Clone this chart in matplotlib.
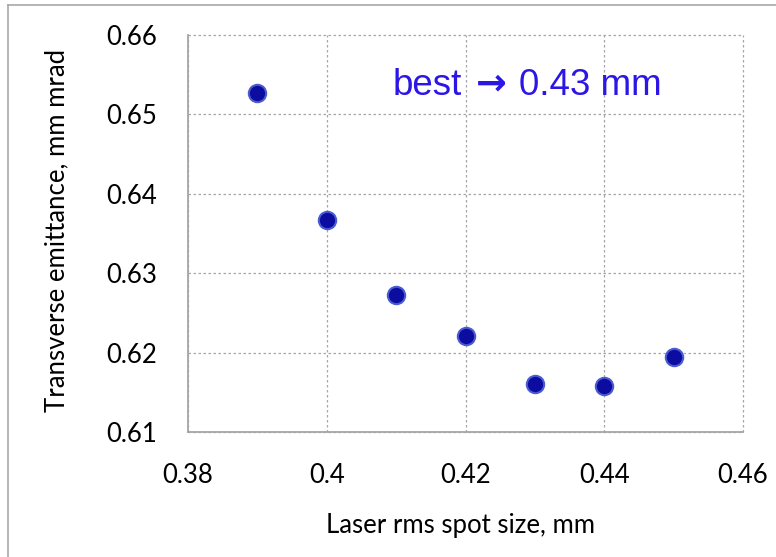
import matplotlib
matplotlib.use("Agg")
import matplotlib.pyplot as plt
from matplotlib.lines import Line2D

spot_size = [0.39, 0.40, 0.41, 0.42, 0.43, 0.44, 0.45]
emittance = [0.6527, 0.6367, 0.6273, 0.6221, 0.6160, 0.6158, 0.6195]

x_ticks = [0.38, 0.40, 0.42, 0.44, 0.46]
x_tick_labels = ["0.38", "0.4", "0.42", "0.44", "0.46"]
y_ticks = [0.61, 0.62, 0.63, 0.64, 0.65, 0.66]
y_tick_labels = ["0.61", "0.62", "0.63", "0.64", "0.65", "0.66"]

x_label = "Laser rms spot size, mm"
y_label = "Transverse emittance, mm mrad"
note_parts = ["best", "\u2192", "0.43 mm"]

tick_font = "Lato"
grey = "#a6a6a6"
note_color = "#2b16e6"

fig = plt.figure(figsize=(7.76, 5.57), dpi=100)
ax = fig.add_axes([0.2423, 0.2244, 0.7152, 0.7128])

ax.plot(spot_size, emittance, linestyle="none", marker="o",
        markersize=12.5, markerfacecolor="#0c0ca0",
        markeredgecolor="#4a5bd0", markeredgewidth=1.5, zorder=3)

ax.set_xlim(0.38, 0.46)
ax.set_ylim(0.61, 0.66)
ax.set_xticks(x_ticks)
ax.set_xticklabels(x_tick_labels)
ax.set_yticks(y_ticks)
ax.set_yticklabels(y_tick_labels)

ax.grid(True, color=grey, linestyle=(0, (2, 2)), linewidth=0.9)
for gl in ax.get_xgridlines() + ax.get_ygridlines():
    gl.set_clip_on(False)

for side in ["top", "right"]:
    ax.spines[side].set_visible(False)
for side in ["left", "bottom"]:
    ax.spines[side].set_color(grey)
    ax.spines[side].set_linewidth(1.3)

ax.tick_params(axis="both", length=0, labelsize=18.5, colors="black")
ax.tick_params(axis="x", pad=22)
ax.tick_params(axis="y", pad=22)
for lbl in ax.get_xticklabels() + ax.get_yticklabels():
    lbl.set_fontfamily(tick_font)

# note: "best", a heavier arrow, then the value
t1 = ax.text(0.369, 0.849, note_parts[0], transform=ax.transAxes, fontsize=26.5,
             family="Liberation Sans", color=note_color, ha="left", va="baseline")
t2 = ax.annotate(note_parts[1], xy=(1, 0), xycoords=t1, xytext=(10, 0),
                 textcoords="offset points", fontsize=26.5, family="DejaVu Sans",
                 fontweight="bold", color=note_color, ha="left", va="bottom")
ax.annotate(note_parts[2], xy=(1, 0), xycoords=t2, xytext=(9, 0),
            textcoords="offset points", fontsize=26.5, family="Liberation Sans",
            color=note_color, ha="left", va="bottom")

fig.text(461 / 776, 1 - 533 / 557, x_label, fontsize=18.5, family=tick_font,
         ha="center", va="baseline")
fig.text(57 / 776, 1 - 230 / 557, y_label, fontsize=18.5, family=tick_font,
         rotation=90, ha="center", va="center")

# outer frame (left and top edges visible in the picture)
fig.add_artist(Line2D([8 / 776, 8 / 776], [0, 1 - 5 / 557], color="#a8a8a8",
                      linewidth=1.2, transform=fig.transFigure))
fig.add_artist(Line2D([8 / 776, 1], [1 - 5 / 557, 1 - 5 / 557], color="#a8a8a8",
                      linewidth=1.2, transform=fig.transFigure))

fig.savefig("out.png", dpi=100)
plt.close(fig)
